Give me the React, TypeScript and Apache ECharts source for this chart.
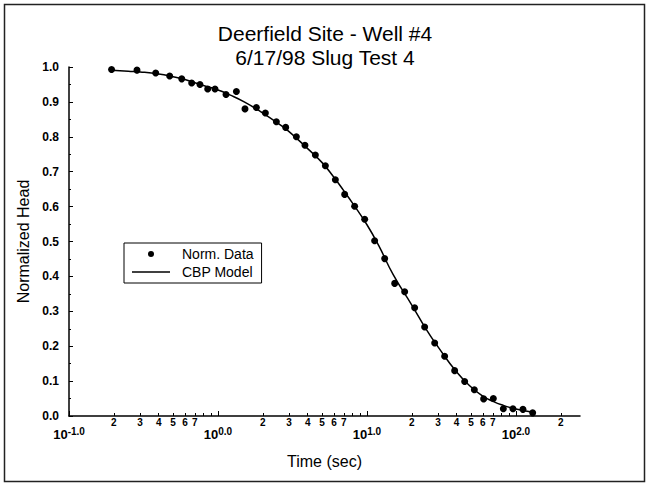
import React, { useEffect, useRef } from "react";
import * as echarts from "echarts";

// Measured data (time in seconds, normalized head)
const normTime = [
  0.193, 0.286, 0.382, 0.474, 0.571, 0.666, 0.757, 0.853, 0.955, 1.132,
  1.329, 1.518, 1.81, 2.08, 2.466, 2.848, 3.359, 3.836, 4.505, 5.258,
  6.137, 7.086, 8.268, 9.652, 11.26, 13.15, 15.35, 17.91, 20.9, 24.39,
  28.48, 33.22, 38.79, 45.27, 52.58, 60.7, 70.52, 82.31, 95.48, 111.4,
  129.5,
];
const normHead = [
  0.993, 0.991, 0.983, 0.974, 0.966, 0.954, 0.95, 0.937, 0.937, 0.921,
  0.93, 0.88, 0.884, 0.868, 0.843, 0.827, 0.8, 0.776, 0.748, 0.717,
  0.677, 0.635, 0.601, 0.564, 0.502, 0.451, 0.38, 0.356, 0.31, 0.255,
  0.209, 0.171, 0.13, 0.099, 0.075, 0.049, 0.05, 0.021, 0.021, 0.019,
  0.009,
];

// CBP model curve
const modelTime = [
  0.193, 0.25, 0.3, 0.4, 0.5, 0.6, 0.7, 0.8, 1.0, 1.2, 1.5, 2.0, 2.5, 3.0,
  4.0, 5.0, 6.0, 7.0, 8.0, 10.0, 12.0, 15.0, 20.0, 25.0, 30.0, 40.0, 50.0,
  60.0, 70.0, 80.0, 100.0, 130.0,
];
const modelHead = [
  0.991, 0.988, 0.986, 0.98, 0.972, 0.964, 0.955, 0.947, 0.934, 0.92, 0.9,
  0.868, 0.84, 0.815, 0.766, 0.726, 0.684, 0.645, 0.61, 0.548, 0.488, 0.405,
  0.318, 0.248, 0.198, 0.126, 0.083, 0.057, 0.042, 0.032, 0.02, 0.011,
];

// Axis ticks
const decadeExponents = [-1, 0, 1, 2];
const tickMultipliers = [1, 2, 3, 4, 5, 6, 7, 8, 9];
const labelMultipliers = [2, 3, 4, 5, 6, 7];
const xLogMin = -1;
const xLogMax = 2.43;

const FONT = "'Liberation Sans', Arial, Helvetica, sans-serif";

export default function App() {
  const ref = useRef<HTMLDivElement>(null);

  useEffect(() => {
    const chart = echarts.init(ref.current!, null, { renderer: "svg" });

    const minorTicks: number[] = [];
    const minorLabels: number[] = [];
    for (const e of decadeExponents) {
      for (const m of tickMultipliers) {
        const v = e + Math.log10(m);
        if (v <= xLogMax + 1e-9) minorTicks.push(v);
      }
      for (const m of labelMultipliers) {
        const v = e + Math.log10(m);
        if (v <= xLogMax + 1e-9) minorLabels.push(v);
      }
    }
    const decades = decadeExponents.filter((e) => e <= xLogMax);

    const scatterData = normTime.map((t, i) => [Math.log10(t), normHead[i]]);
    const modelData = modelTime.map((t, i) => [Math.log10(t), modelHead[i]]);

    chart.setOption({
      animation: false,
      backgroundColor: "#ffffff",
      textStyle: { fontFamily: FONT, color: "#000" },
      title: {
        text: "Deerfield Site - Well #4\n6/17/98 Slug Test 4",
        left: "center",
        top: 21,
        padding: 0,
        textStyle: {
          fontFamily: FONT,
          fontSize: 21,
          fontWeight: "normal",
          color: "#000",
          lineHeight: 24,
        },
      },
      legend: {
        orient: "vertical",
        left: 124,
        top: 243,
        padding: [4, 8, 4, 8],
        itemGap: 4,
        itemWidth: 38,
        itemHeight: 14,
        borderColor: "#000",
        borderWidth: 1,
        backgroundColor: "#fff",
        textStyle: {
          fontFamily: FONT,
          fontSize: 14,
          color: "#000",
          padding: [0, 0, 0, 7],
        },
        data: [
          {
            name: "Norm. Data",
            icon: "path://M0,0M38,14M16,7a3,3 0 1 0 6,0a3,3 0 1 0 -6,0Z",
            itemStyle: { color: "#000", opacity: 1 },
          },
          {
            name: "CBP Model",
            icon: "path://M0,0M38,14M0,6.3L38,6.3L38,7.7L0,7.7Z",
            itemStyle: { color: "#000", opacity: 1 },
          },
        ],
      },
      grid: { left: 69, right: 70, top: 67, bottom: 72 },
      xAxis: [
        {
          type: "value",
          min: xLogMin,
          max: xLogMax,
          position: "bottom",
          name: "Time (sec)",
          nameLocation: "middle",
          nameGap: 37,
          nameTextStyle: { fontFamily: FONT, fontSize: 16, color: "#000" },
          axisLine: {
            show: true,
            onZero: false,
            lineStyle: { color: "#000", width: 1.5 },
          },
          axisTick: {
            show: true,
            inside: true,
            length: 3,
            customValues: minorTicks,
            lineStyle: { color: "#000", width: 1 },
          },
          axisLabel: {
            show: true,
            customValues: minorLabels,
            margin: 1,
            fontFamily: FONT,
            fontSize: 10,
            fontWeight: "bold",
            color: "#000",
            formatter: (v: number) =>
              String(Math.round(Math.pow(10, v - Math.floor(v + 1e-9)))),
          },
          splitLine: { show: false },
        },
        {
          type: "value",
          min: xLogMin,
          max: xLogMax,
          position: "bottom",
          offset: 0,
          axisLine: { show: false, onZero: false },
          axisTick: {
            show: true,
            inside: true,
            length: 5,
            customValues: decades,
            lineStyle: { color: "#000", width: 1 },
          },
          axisLabel: {
            show: true,
            customValues: decades,
            margin: 10,
            formatter: (v: number) =>
              "{b|10}{s|" + Math.round(v).toFixed(1) + "}",
            rich: {
              b: {
                fontFamily: FONT,
                fontSize: 13,
                fontWeight: "bold",
                color: "#000",
                lineHeight: 15,
                verticalAlign: "bottom",
              },
              s: {
                fontFamily: FONT,
                fontSize: 10,
                fontWeight: "bold",
                color: "#000",
                lineHeight: 10,
                verticalAlign: "top",
              },
            },
          },
          splitLine: { show: false },
        },
      ],
      yAxis: {
        type: "value",
        min: 0,
        max: 1,
        interval: 0.1,
        name: "Normalized Head",
        nameLocation: "middle",
        nameGap: 38,
        nameTextStyle: { fontFamily: FONT, fontSize: 16, color: "#000" },
        axisLine: {
          show: true,
          onZero: false,
          lineStyle: { color: "#000", width: 1.5 },
        },
        axisTick: {
          show: true,
          inside: true,
          length: 4,
          lineStyle: { color: "#000", width: 1 },
        },
        minorTick: {
          show: true,
          splitNumber: 2,
          length: 2,
          lineStyle: { color: "#000", width: 1 },
        },
        axisLabel: {
          margin: 10,
          fontFamily: FONT,
          fontSize: 12,
          fontWeight: "bold",
          color: "#000",
          formatter: (v: number) => v.toFixed(1),
        },
        splitLine: { show: false },
      },
      graphic: [
        {
          type: "rect",
          shape: { x: 4.5, y: 4.5, width: 640, height: 477 },
          style: { fill: "none", stroke: "#222", lineWidth: 1.5 },
          silent: true,
        },
      ],
      series: [
        {
          name: "CBP Model",
          type: "line",
          xAxisIndex: 0,
          data: modelData,
          smooth: true,
          symbol: "none",
          showSymbol: false,
          lineStyle: { color: "#000", width: 1.5 },
          itemStyle: { color: "#000" },
          z: 2,
        },
        {
          name: "Norm. Data",
          type: "scatter",
          xAxisIndex: 0,
          data: scatterData,
          symbol: "circle",
          symbolSize: 7,
          itemStyle: { color: "#000", opacity: 1 },
          z: 3,
        },
      ],
    });

    return () => chart.dispose();
  }, []);

  return (
    <div
      ref={ref}
      style={{
        position: "fixed",
        left: 0,
        top: 0,
        width: 650,
        height: 488,
        background: "#fff",
      }}
    />
  );
}
